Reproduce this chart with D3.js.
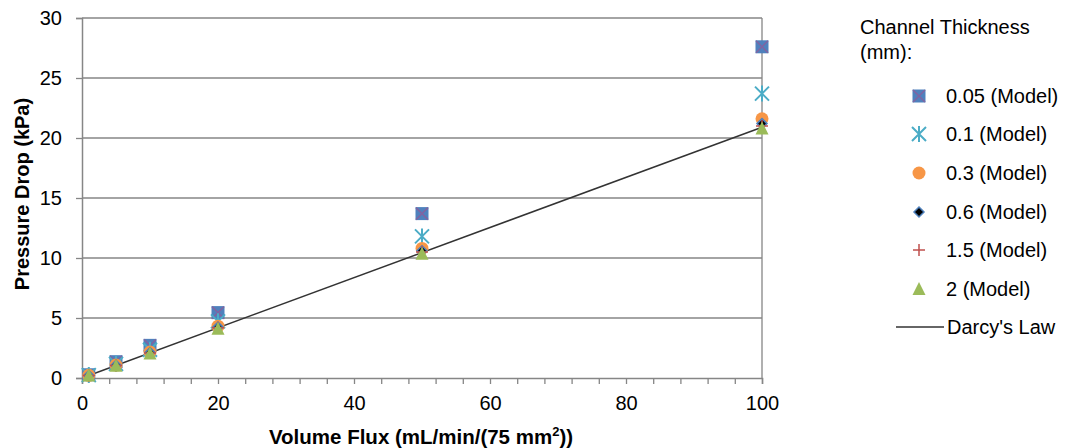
<!DOCTYPE html>
<html>
<head>
<meta charset="utf-8">
<script src="https://cdn.jsdelivr.net/npm/d3@7"></script>
<style>
  body { margin: 0; background: #fff; }
  svg { font-family: "Liberation Sans", Arial, sans-serif; }
</style>
</head>
<body>
<div id="chart"></div>
<script>
"use strict";

// data
var flux = [1, 5, 10, 20, 50, 100];
var thick005 = [0.27, 1.36, 2.72, 5.45, 13.7, 27.6];
var thick01 = [0.24, 1.18, 2.36, 4.72, 11.8, 23.7];
var thick03 = [0.22, 1.08, 2.16, 4.32, 10.8, 21.6];
var thick06 = [0.21, 1.06, 2.12, 4.24, 10.6, 21.2];
var thick15 = [0.21, 1.05, 2.09, 4.18, 10.5, 21.0];
var thick2 = [0.2, 1.02, 2.05, 4.1, 10.35, 20.8];
var darcyX = [1, 100];
var darcyY = [0.21, 20.9];
var yTicks = [0, 5, 10, 15, 20, 25, 30];
var xLabelTicks = [0, 20, 40, 60, 80, 100];

var series = [
    {name: "0.05 (Model)", values: thick005, shape: "square"},
    {name: "0.1 (Model)", values: thick01, shape: "star"},
    {name: "0.3 (Model)", values: thick03, shape: "circle"},
    {name: "0.6 (Model)", values: thick06, shape: "diamond"},
    {name: "1.5 (Model)", values: thick15, shape: "plus"},
    {name: "2 (Model)", values: thick2, shape: "triangle"}
];

var W = 1072, H = 448;
var margin = {top: 18, left: 82};
var width = 762 - margin.left;
var height = 378 - margin.top;

var svg = d3.select("#chart").append("svg")
    .attr("width", W).attr("height", H);
var g = svg.append("g")
    .attr("transform", "translate(" + margin.left + "," + margin.top + ")");

var x = d3.scaleLinear().domain([0, 100]).range([0, width]);
var y = d3.scaleLinear().domain([0, 30]).range([height, 0]);

var gridColor = "#868686";
var fontFam = "Liberation Sans, Arial, sans-serif";

// horizontal gridlines
g.selectAll(".grid").data(yTicks.filter(d => d > 0)).enter()
    .append("line")
    .attr("x1", 0).attr("x2", width)
    .attr("y1", d => y(d)).attr("y2", d => y(d))
    .attr("stroke", gridColor).attr("stroke-width", 1.3);

// right border
g.append("line")
    .attr("x1", width).attr("x2", width)
    .attr("y1", 0).attr("y2", height)
    .attr("stroke", gridColor).attr("stroke-width", 1.3);

// Y axis
var yAxis = g.append("g")
    .call(d3.axisLeft(y).tickValues(yTicks).tickSize(6).tickPadding(14));
// X axis, ticks every 4 with labels every 20
var xAxis = g.append("g")
    .attr("transform", "translate(0," + height + ")")
    .call(d3.axisBottom(x).tickValues(d3.range(0, 101, 4)).tickSize(6).tickFormat(""));
var xLabels = g.append("g")
    .attr("transform", "translate(0," + height + ")")
    .call(d3.axisBottom(x).tickValues(xLabelTicks).tickSize(0).tickPadding(18));
xLabels.select(".domain").remove();

[yAxis, xAxis].forEach(a => {
    a.select(".domain").attr("stroke", gridColor).attr("stroke-width", 1.5);
    a.selectAll(".tick line").attr("stroke", gridColor).attr("stroke-width", 1.3);
});
[yAxis, xLabels].forEach(a => {
    a.selectAll("text")
        .style("font-family", fontFam)
        .style("font-size", "20px").attr("fill", "#000");
});

// axis titles
svg.append("text")
    .attr("transform", "translate(29,194) rotate(-90)")
    .attr("text-anchor", "middle")
    .style("font-size", "20px").style("font-weight", "bold")
    .text("Pressure Drop (kPa)");

var xt = svg.append("text")
    .attr("x", 421).attr("y", 444)
    .attr("text-anchor", "middle")
    .style("font-size", "20.5px").style("font-weight", "bold");
xt.append("tspan").text("Volume Flux (mL/min/(75 mm");
xt.append("tspan").attr("dy", -8).style("font-size", "13px").text("2");
xt.append("tspan").attr("dy", 8).text("))");

// Darcy's law line
var line = d3.line().x(d => x(d[0])).y(d => y(d[1]));
g.append("path")
    .datum(d3.zip(darcyX, darcyY))
    .attr("d", line)
    .attr("fill", "none").attr("stroke", "#333").attr("stroke-width", 1.5);

// marker drawing
function drawMarker(sel, shape) {
    if (shape === "square") {
        sel.append("rect").attr("x", -6.5).attr("y", -6.5).attr("width", 13).attr("height", 13)
            .attr("fill", "#4F81BD");
        sel.append("path").attr("d", "M-6,-6L6,6M-6,6L6,-6")
            .attr("stroke", "#8064A2").attr("stroke-width", 1.5);
    } else if (shape === "star") {
        sel.append("path").attr("d", "M-7,-7L7,7M-7,7L7,-7M0,-8L0,8")
            .attr("stroke", "#4BACC6").attr("stroke-width", 2);
    } else if (shape === "circle") {
        sel.append("circle").attr("r", 6.5).attr("fill", "#F79646");
    } else if (shape === "diamond") {
        sel.append("path").attr("d", "M0,-5L5,0L0,5L-5,0Z")
            .attr("fill", "#000").attr("stroke", "#4F81BD").attr("stroke-width", 1.5);
    } else if (shape === "plus") {
        sel.append("path").attr("d", "M-6,0L6,0M0,-6L0,6")
            .attr("stroke", "#C0504D").attr("stroke-width", 1.5);
    } else if (shape === "triangle") {
        sel.append("path").attr("d", "M0,-7L6.5,6L-6.5,6Z").attr("fill", "#9BBB59");
    }
}

series.forEach(s => {
    var pts = g.append("g").selectAll("g")
        .data(d3.zip(flux, s.values)).enter()
        .append("g")
        .attr("transform", d => "translate(" + x(d[0]) + "," + y(d[1]) + ")");
    drawMarker(pts, s.shape);
});

// legend
var leg = svg.append("g").style("font-size", "20px");
leg.append("text").attr("x", 860).attr("y", 34).text("Channel Thickness");
leg.append("text").attr("x", 860).attr("y", 59).text("(mm):");
var rowY = [96, 134, 173, 212, 250, 289];
series.forEach((s, i) => {
    var m = leg.append("g").attr("transform", "translate(919," + rowY[i] + ")");
    drawMarker(m, s.shape);
    leg.append("text").attr("x", 946).attr("y", rowY[i] + 7).text(s.name);
});
leg.append("line").attr("x1", 896).attr("x2", 944).attr("y1", 327).attr("y2", 327)
    .attr("stroke", "#333").attr("stroke-width", 1.5);
leg.append("text").attr("x", 947).attr("y", 334).text("Darcy's Law");
</script>
</body>
</html>
